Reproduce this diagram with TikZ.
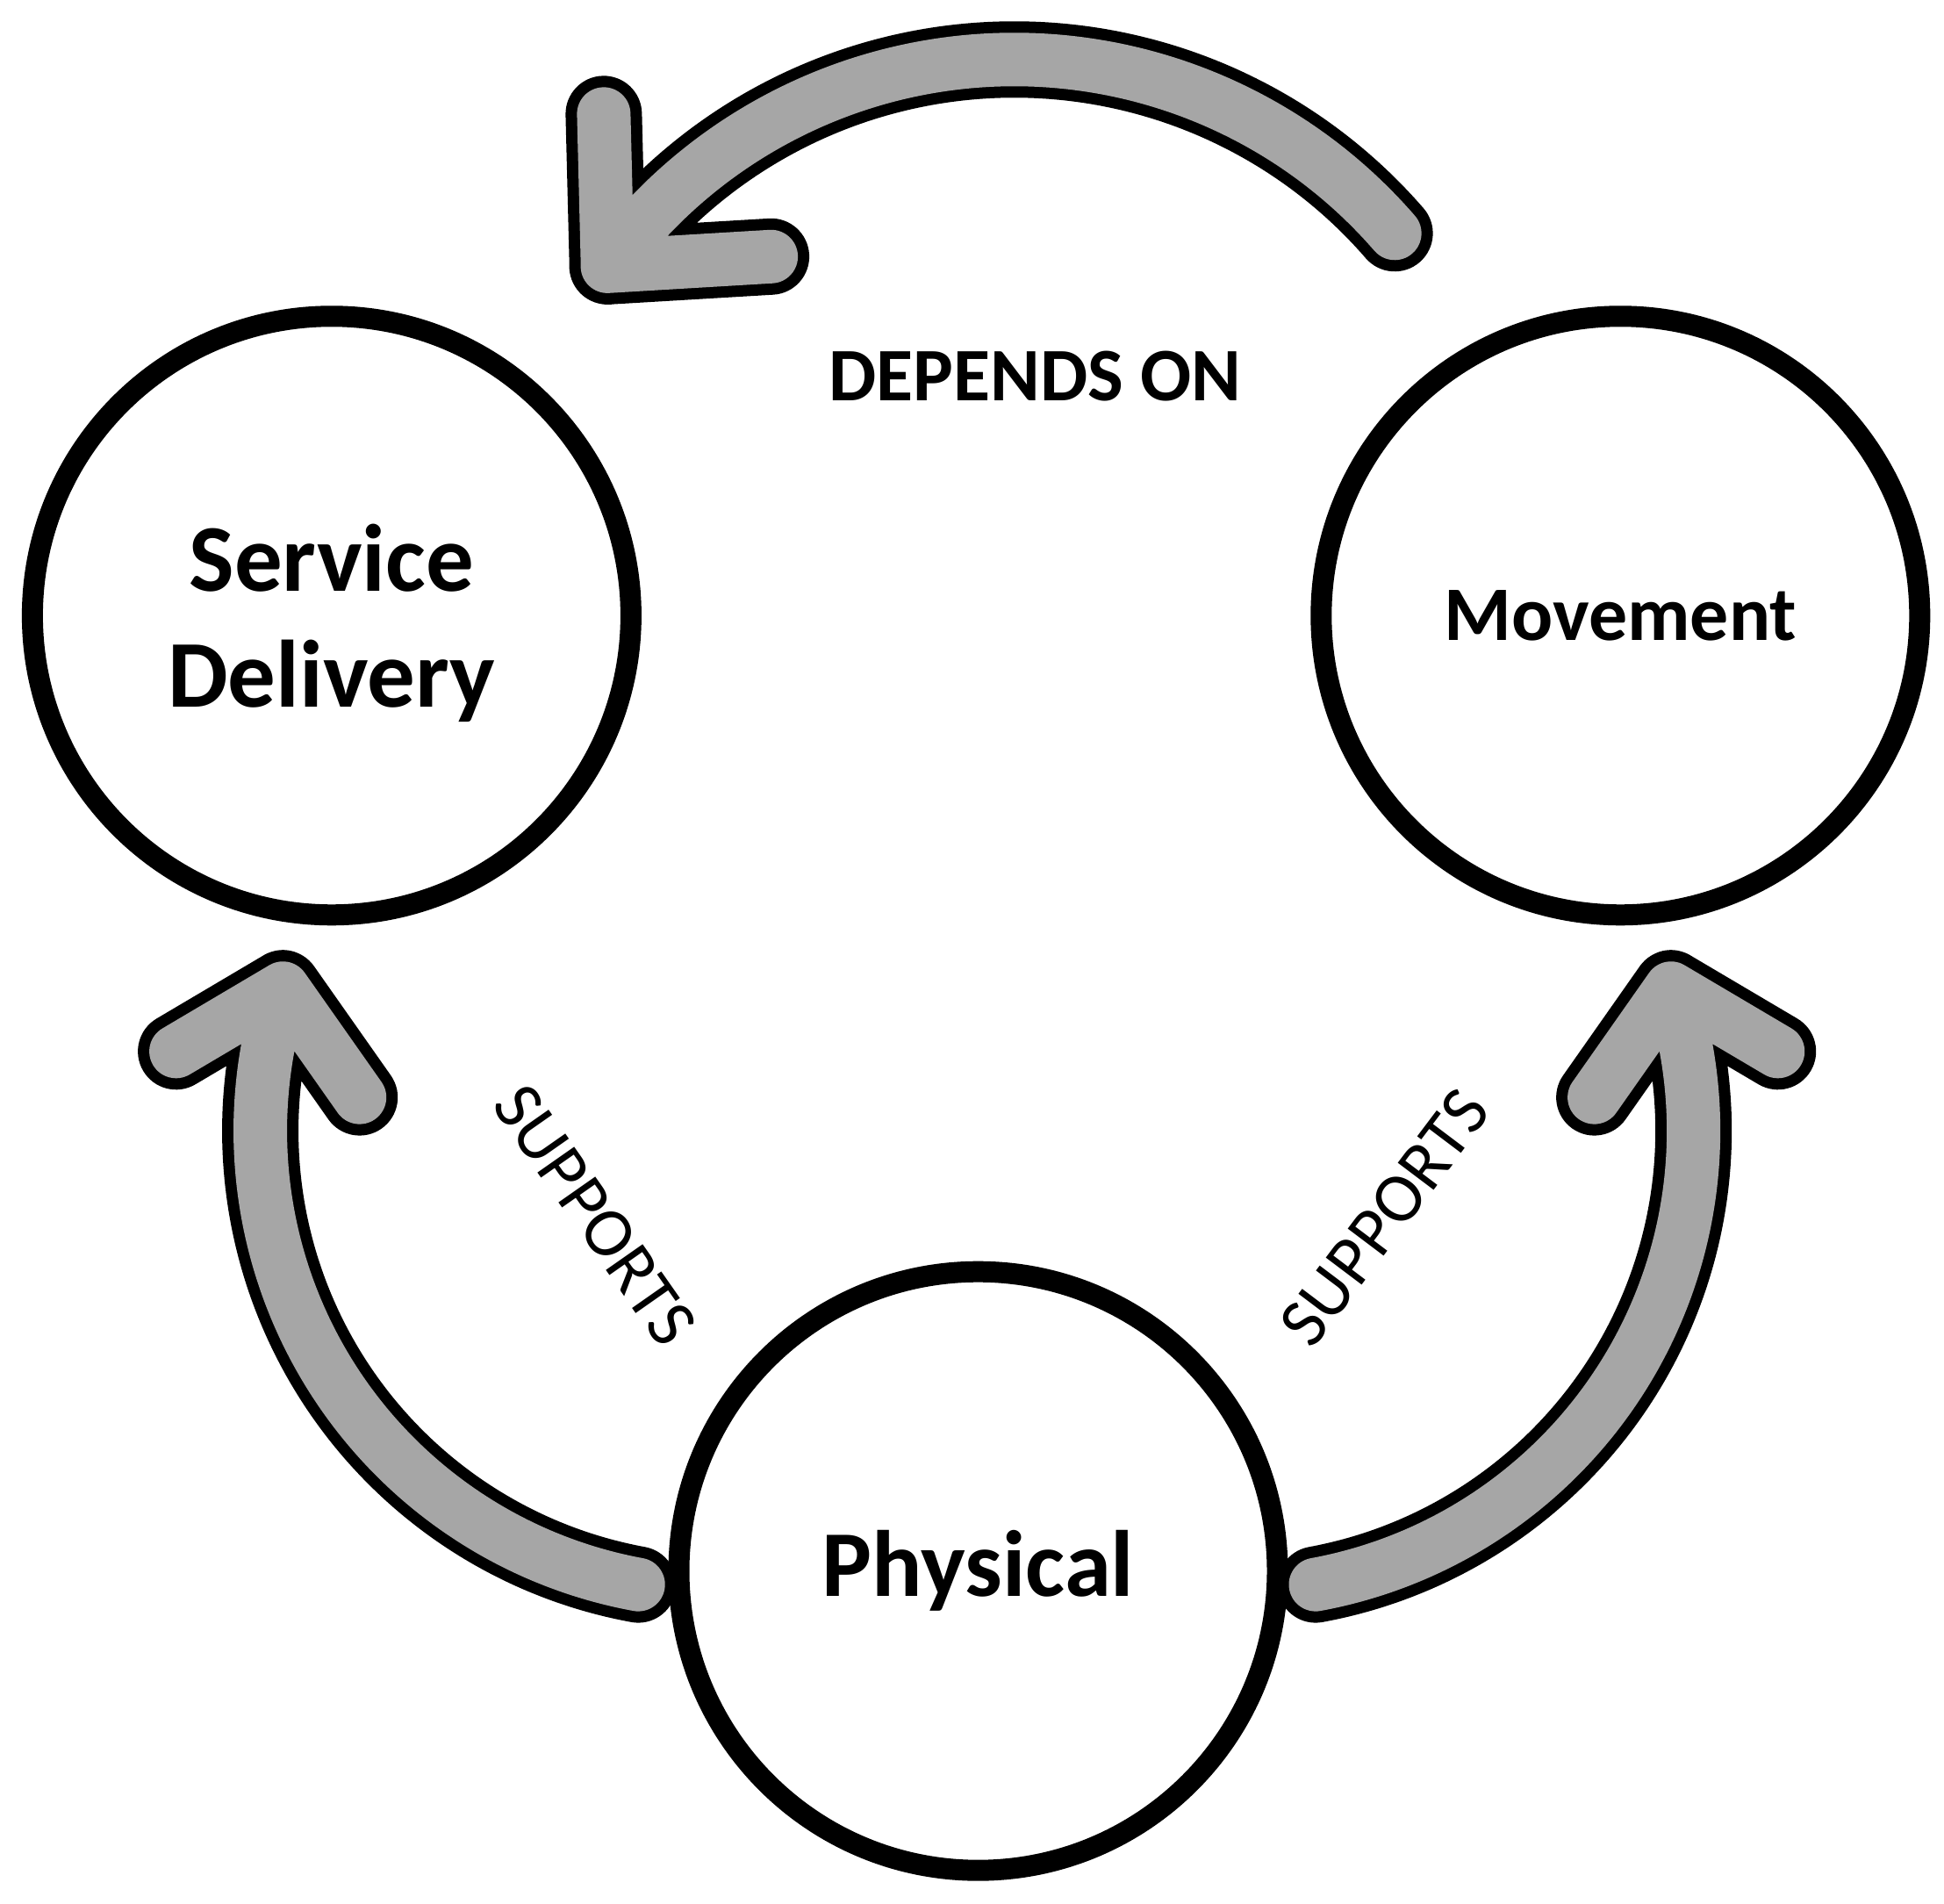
\documentclass[tikz,border=0pt]{standalone}
\usepackage{fontspec}
\setmainfont{Carlito}
\definecolor{arrowgray}{HTML}{A6A6A6}
\tikzset{
  stage/.style={circle, draw=black, fill=white, line width=0.24cm, minimum size=6.82cm, inner sep=0pt, align=center},
  shapearrow/.style={draw=arrowgray, line width=0.61cm, line cap=round, line join=round,
    preaction={draw=black, line width=0.87cm, line cap=round, line join=round}},
  linklabel/.style={font=\fontsize{22.7}{26}\selectfont},
}

\begin{document}
\begin{tikzpicture}
    \useasboundingbox (0,0) rectangle (22.15,21.68);
    % ends of the three arrows
    \coordinate (physL) at (7.272,3.629);
    \coordinate (sdTip) at (3.223,10.422);
    \coordinate (sdArmA) at (2.006,9.702);
    \coordinate (sdArmB) at (4.097,9.179);
    \coordinate (physR) at (14.990,3.629);
    \coordinate (movTip) at (19.039,10.422);
    \coordinate (movArmA) at (20.257,9.702);
    \coordinate (movArmB) at (18.166,9.179);
    \coordinate (movTail) at (15.891,19.022);
    \coordinate (topTip) at (6.921,18.646);
    \coordinate (topArmA) at (6.879,20.381);
    \coordinate (topArmB) at (8.786,18.757);
    \draw[shapearrow] (physL) arc[start angle=259.6, end angle=162, radius=5.255] -- (sdArmA) (sdTip) -- (sdArmB);
    \draw[shapearrow] (physR) arc[start angle=-79.6, end angle=18, radius=5.255] -- (movArmA) (movTip) -- (movArmB);
    \draw[shapearrow] (movTail) arc[start angle=40.9, end angle=143.9, radius=5.735] -- (topArmA) (topTip) -- (topArmB);
    % the three circles
    \node[stage, text depth=0pt, font=\bfseries\fontsize{31}{37.7}\selectfont] (sd) at (3.779,14.667) {Service\\Delivery};
    \node[stage, font=\bfseries\fontsize{25}{30}\selectfont] (mov) at (18.463,14.667) {Movement};
    \node[stage, font=\bfseries\fontsize{30.5}{36}\selectfont] (phys) at (11.145,3.783) {Physical};
    \node[linklabel, font=\bfseries\fontsize{24.5}{28}\selectfont] (dep) at (11.795,17.393) {DEPENDS ON};
    \node[linklabel, rotate=-55] (supL) at (6.780,7.837) {SUPPORTS};
    \node[linklabel, rotate=53] (supR) at (15.779,7.809) {SUPPORTS};
\end{tikzpicture}
\end{document}
